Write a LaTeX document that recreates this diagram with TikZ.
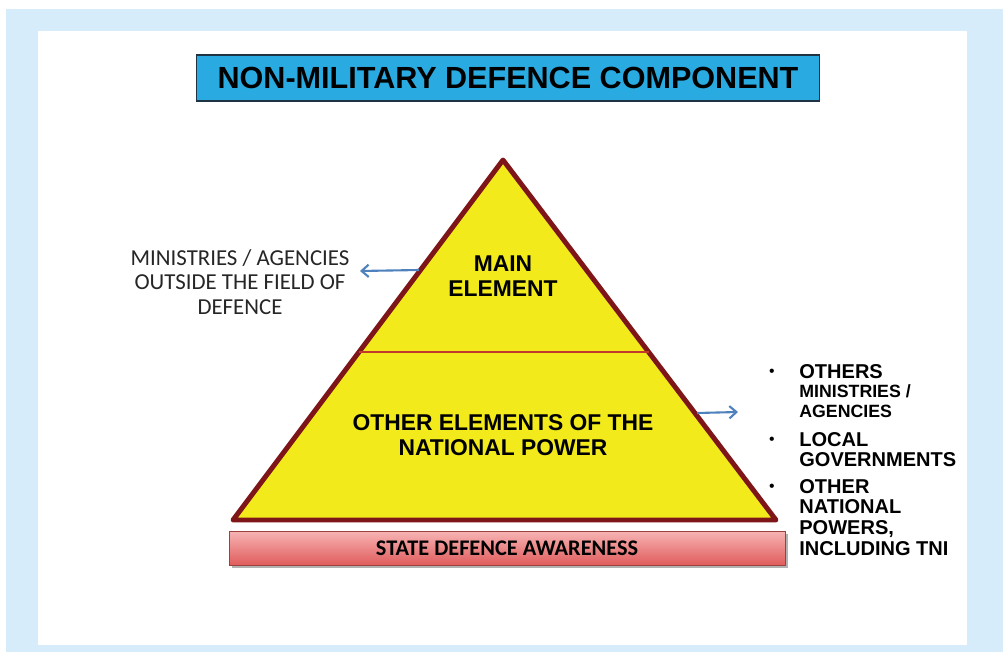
\documentclass[tikz,border=0pt]{standalone}
\usepackage{fontspec}
\usetikzlibrary{arrows.meta}
\setmainfont{Liberation Sans}
\newfontfamily\calibri{Carlito}
\definecolor{bgblue}{HTML}{D7ECFA}
\definecolor{titleblue}{HTML}{29ABE2}
\definecolor{titleedge}{HTML}{1E3444}
\definecolor{pyryellow}{HTML}{F2EA1B}
\definecolor{pyredge}{HTML}{7E1518}
\definecolor{splitred}{HTML}{C0392B}
\definecolor{arrowblue}{HTML}{4F81BD}
\definecolor{bartop}{HTML}{F7B4B4}
\definecolor{barbottom}{HTML}{E05C5C}
\tikzset{
  heading/.style={draw=titleedge, fill=titleblue, line width=0.6pt, minimum width=12.48cm, minimum height=0.92cm, font=\bfseries\fontsize{17.4}{20}\selectfont},
  level/.style={align=center, font=\bfseries\fontsize{13}{14.2}\selectfont},
  sidenote/.style={align=center, text=black!85, font=\calibri\fontsize{13}{13.9}\selectfont},
  item/.style={anchor=north west, align=left, inner sep=0pt, font=\bfseries\fontsize{11.4}{11.7}\selectfont},
  dot/.style={inner sep=0pt, font=\fontsize{9}{10}\selectfont},
  pointer/.style={-{Straight Barb[length=4pt,width=7pt]}, draw=arrowblue, line width=1.2pt},
  awareness/.style={draw=barbottom!70!black, top color=bartop, bottom color=barbottom, minimum width=11.12cm, minimum height=0.68cm, font=\calibri\bfseries\fontsize{12.7}{14}\selectfont}
}

\begin{document}
\begin{tikzpicture}[x=0.02cm, y=-0.02cm]
    \useasboundingbox (0,0) rectangle (1003,652);
    \fill[bgblue] (6,9) rectangle (1003,652);
    \fill[white] (38,31) rectangle (967,645);

    \node[heading] (title) at (508,78) {NON-MILITARY DEFENCE COMPONENT};

    % pyramid
    \coordinate (apex) at (503,160);
    \coordinate (baseL) at (233,520);
    \coordinate (baseR) at (776,520);
    \coordinate (splitL) at (359,352);
    \coordinate (splitR) at (649,352);
    \draw[pyredge, fill=pyryellow, line width=2.8pt, line join=round] (apex) -- (baseR) -- (baseL) -- cycle;
    \draw[splitred, line width=1.1pt] (splitL) -- (splitR);

    \node[level] (main) at (503,276) {MAIN\\ELEMENT};
    \node[level] (other) at (503,435) {OTHER ELEMENTS OF THE\\NATIONAL POWER};

    \fill[black, opacity=0.3] (232,534) rectangle (788,568);
    \node[awareness] (sda) at (507,548) {STATE DEFENCE AWARENESS};

    % left side
    \node[sidenote] (outside) at (240,282) {MINISTRIES / AGENCIES\\OUTSIDE THE FIELD OF\\DEFENCE};
    \coordinate (leftfrom) at (419,270);
    \coordinate (leftto) at (360,271);
    \draw[pointer] (leftfrom) -- (leftto);

    % right side
    \coordinate (rightfrom) at (697,413);
    \coordinate (rightto) at (738,412);
    \draw[pointer] (rightfrom) -- (rightto);

    \node[dot] (b1) at (772,373) {•};
    \node[dot] (b2) at (772,441) {•};
    \node[dot] (b3) at (772,488) {•};
    \node[item] (i1) at (799,364) {OTHERS\\[-1pt]{\fontsize{10.1}{11.7}\selectfont MINISTRIES /}\\{\fontsize{10.1}{11.7}\selectfont AGENCIES}};
    \node[item] (i2) at (799,432) {LOCAL\\GOVERNMENTS};
    \node[item] (i3) at (799,479) {OTHER\\NATIONAL\\POWERS,\\INCLUDING TNI};
\end{tikzpicture}
\end{document}
